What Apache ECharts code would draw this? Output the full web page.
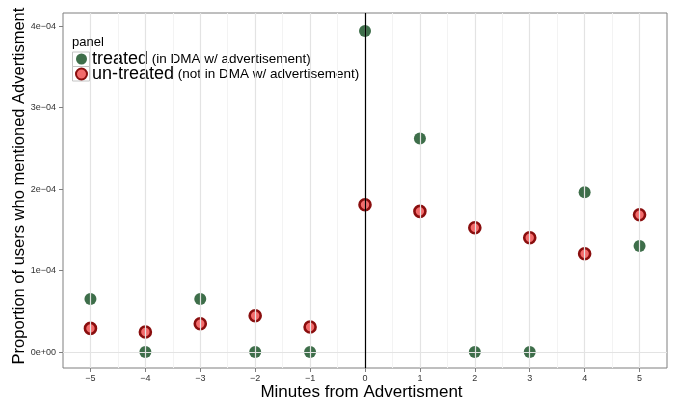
<!DOCTYPE html>
<html>
<head>
<meta charset="utf-8">
<script src="https://cdn.jsdelivr.net/npm/echarts@6/dist/echarts.min.js"></script>
<style>
  html, body { margin: 0; padding: 0; background: #fff; }
  #chart { width: 675px; height: 402px; }
</style>
</head>
<body>
<div id="chart"></div>
<script>
// Minutes relative to the advertisement
const minutes = [-5, -4, -3, -2, -1, 0, 1, 2, 3, 4, 5];
// Proportion of users who mentioned the advertisement
const treated   = [0.65e-4, 0, 0.65e-4, 0, 0, 3.94e-4, 2.62e-4, 0, 0, 1.96e-4, 1.30e-4];
const untreated = [0.29e-4, 0.245e-4, 0.347e-4, 0.445e-4, 0.307e-4, 1.807e-4, 1.726e-4, 1.525e-4, 1.403e-4, 1.206e-4, 1.685e-4];

// Axis ticks and their labels
const xTicks = [-5, -4, -3, -2, -1, 0, 1, 2, 3, 4, 5];
const yTicks = [0, 1e-4, 2e-4, 3e-4, 4e-4];
const yTickLabels = ['0e+00', '1e\u221204', '2e\u221204', '3e\u221204', '4e\u221204'];
// Minor grid positions
const xMinor = [-4.5, -3.5, -2.5, -1.5, -0.5, 0.5, 1.5, 2.5, 3.5, 4.5];
const yMinor = [0.5e-4, 1.5e-4, 2.5e-4, 3.5e-4];

const seriesNames = ['treated', 'un-treated'];
const seriesNotes = ['(in DMA w/ advertisement)', '(not in DMA w/ advertisement)'];

const FONT = '"Liberation Sans", Arial, Helvetica, sans-serif';
const MAJOR = '#e3e3e3';
const MINOR = '#f3f3f3';

const pts = (ys) => minutes.map((m, i) => [m, ys[i]]);

const gridLines = [];
xMinor.forEach(v => gridLines.push({ xAxis: v, lineStyle: { color: MINOR, width: 1, type: 'solid' } }));
yMinor.forEach(v => gridLines.push({ yAxis: v, lineStyle: { color: MINOR, width: 1, type: 'solid' } }));
xTicks.forEach(v => gridLines.push({ xAxis: v, lineStyle: { color: MAJOR, width: 1.2, type: 'solid' } }));
yTicks.forEach(v => gridLines.push({ yAxis: v, lineStyle: { color: MAJOR, width: 1.2, type: 'solid' } }));

const chart = echarts.init(document.getElementById('chart'), null, { renderer: 'canvas' });

chart.setOption({
  animation: false,
  backgroundColor: '#ffffff',
  textStyle: { fontFamily: FONT },
  title: {
    text: 'panel',
    left: 72, top: 36,
    padding: 0,
    textStyle: { fontFamily: FONT, fontSize: 13, fontWeight: 'normal', color: '#000' }
  },
  graphic: [
    { type: 'rect', z: 0, shape: { x: 72.5, y: 52, width: 17, height: 14.5 }, style: { fill: '#fff', stroke: '#c4c4c4', lineWidth: 1 } },
    { type: 'rect', z: 0, shape: { x: 72.5, y: 66.5, width: 17, height: 14.5 }, style: { fill: '#fff', stroke: '#c4c4c4', lineWidth: 1 } }
  ],
  legend: {
    data: seriesNames,
    orient: 'vertical',
    left: 75, top: 50,
    padding: 0,
    itemGap: -3,
    itemWidth: 11, itemHeight: 11,
    z: 5,
    formatter: (name) => {
      const i = seriesNames.indexOf(name);
      return '{a|' + name + '} {b|' + seriesNotes[i] + '}';
    },
    textStyle: {
      fontFamily: FONT,
      fontSize: 13,
      lineHeight: 15,
      rich: {
        a: { fontSize: 18, color: '#000', lineHeight: 15, fontFamily: FONT },
        b: { fontSize: 13.5, color: '#000', lineHeight: 15, fontFamily: FONT }
      }
    }
  },
  grid: {
    left: 63, right: 8, top: 13, bottom: 34,
    containLabel: false,
    outerBoundsMode: 'none',
    show: true,
    borderColor: '#7f7f7f',
    borderWidth: 1,
    backgroundColor: 'transparent'
  },
  xAxis: {
    type: 'value',
    min: -5.5, max: 5.5,
    name: 'Minutes from Advertisment',
    nameLocation: 'middle',
    nameGap: 16,
    nameMoveOverlap: false,
    nameTextStyle: { fontFamily: FONT, fontSize: 17, color: '#000', padding: [0, 7, 0, 0] },
    axisLine: { show: false, onZero: false },
    axisTick: { show: true, customValues: xTicks, length: 4, lineStyle: { color: '#7f7f7f' } },
    axisLabel: {
      customValues: xTicks,
      margin: 6,
      fontSize: 9, color: '#333', fontFamily: FONT,
      formatter: (v) => (v < 0 ? '\u2212' + Math.abs(v) : String(v))
    },
    splitLine: { show: false }
  },
  yAxis: {
    type: 'value',
    min: -0.196e-4, max: 4.16e-4,
    name: 'Proportion of users who mentioned Advertisment',
    nameLocation: 'middle',
    nameGap: 35,
    nameMoveOverlap: false,
    nameTextStyle: { fontFamily: FONT, fontSize: 16.5, color: '#000', padding: [0, 0, 0, 9] },
    axisLine: { show: false, onZero: false },
    axisTick: { show: true, customValues: yTicks, length: 4, lineStyle: { color: '#7f7f7f' } },
    axisLabel: {
      customValues: yTicks,
      margin: 7,
      fontSize: 9, color: '#333', fontFamily: FONT,
      formatter: (v) => {
        let best = 0;
        yTicks.forEach((t, i) => { if (Math.abs(t - v) < Math.abs(yTicks[best] - v)) best = i; });
        return yTickLabels[best];
      }
    },
    splitLine: { show: false }
  },
  series: [
    {
      name: 'grid',
      type: 'line',
      data: [],
      silent: true,
      z: 1,
      markLine: {
        silent: true,
        symbol: 'none',
        label: { show: false },
        animation: false,
        data: gridLines
      }
    },
    {
      name: 'zero',
      type: 'line',
      data: [],
      silent: true,
      z: 2,
      markLine: {
        silent: true,
        symbol: 'none',
        label: { show: false },
        animation: false,
        data: [{ xAxis: 0, lineStyle: { color: '#000', width: 1.2, type: 'solid' } }]
      }
    },
    {
      name: 'treated',
      type: 'scatter',
      z: 3,
      symbol: 'circle',
      symbolSize: 12,
      itemStyle: { color: '#3e6e4a', opacity: 1 },
      data: pts(treated)
    },
    {
      name: 'un-treated',
      type: 'scatter',
      z: 4,
      symbol: 'circle',
      symbolSize: 11,
      itemStyle: { color: '#f36c6c', borderColor: '#8a0e0e', borderWidth: 2.6, opacity: 1 },
      data: pts(untreated)
    }
  ]
});
</script>
</body>
</html>
